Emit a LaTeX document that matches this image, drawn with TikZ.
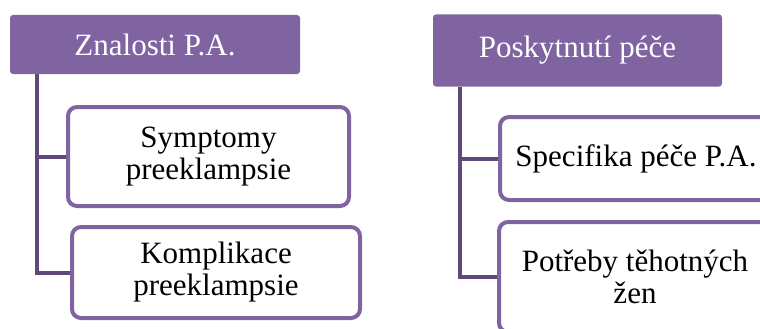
\documentclass[tikz,border=0pt]{standalone}
\usepackage{fontspec}
\setmainfont{Liberation Serif}
\usetikzlibrary{backgrounds}
\definecolor{hdrpurple}{HTML}{8064A2}
\definecolor{boxpurple}{HTML}{8064A2}
\definecolor{linepurple}{HTML}{5F497A}
\tikzset{
  header/.style={rectangle, rounded corners=3pt, fill=hdrpurple, text=white, inner sep=0pt, align=center,
    font=\rmfamily\fontsize{31}{32}\selectfont},
  itembox/.style={rectangle, rounded corners=9pt, draw=boxpurple, line width=4pt, fill=white, inner sep=0pt, align=center,
    font=\rmfamily\fontsize{31}{32}\selectfont},
  conn/.style={draw=linepurple, line width=4pt}
}
\begin{document}
\begin{tikzpicture}[x=1pt,y=-1pt]
\useasboundingbox (0,0) rectangle (760,329);
\clip (0,0) rectangle (760,329);
% left group
\node[header, minimum width=290pt, minimum height=59pt] (lh) at (155,44.5) {Znalosti P.A.};
\coordinate (lroot) at (37,74);
\node[itembox, minimum width=281pt, minimum height=99pt] (b1) at (208.5,156.5) {Symptomy\\preeklampsie};
\node[itembox, minimum width=288pt, minimum height=91pt] (b2) at (216,272.5) {Komplikace\\preeklampsie};
% right group
\node[header, minimum width=289pt, minimum height=72pt] (rh) at (577.5,50.5) {Poskytnutí péče};
\coordinate (rroot) at (460,87);
\node[itembox, minimum width=272pt, minimum height=83pt] (b3) at (636,158.5) {Specifika péče P.A.};
\node[itembox, minimum width=272pt, minimum height=110pt] (b4) at (635,277) {Potřeby těhotných\\žen};
% connectors
\begin{scope}[on background layer]
\draw[conn] (lroot) |- (b1.west);
\draw[conn] (lroot) |- (b2.west);
\draw[conn] (rroot) |- (b3.west);
\draw[conn] (rroot) |- (b4.west);
\end{scope}
\end{tikzpicture}
\end{document}
